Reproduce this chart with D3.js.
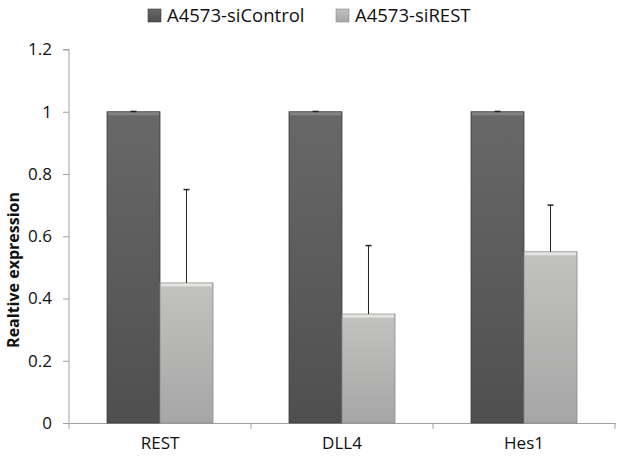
<!DOCTYPE html>
<html><head><meta charset="utf-8">
<script src="https://cdn.jsdelivr.net/npm/d3@7"></script>
<style>body{margin:0;background:#fff}svg{display:block}</style>
</head><body>
<script>
const categories = ["REST", "DLL4", "Hes1"];
const seriesNames = ["A4573-siControl", "A4573-siREST"];
const controlValues = [1, 1, 1];
const controlErrors = [0.001, 0.001, 0.001];
const restValues = [0.45, 0.35, 0.55];
const restErrors = [0.30, 0.22, 0.15];
const yTicks = [0, 0.2, 0.4, 0.6, 0.8, 1, 1.2];

(function () {
const W = 624, H = 461;
const svg = d3.select("body").append("svg").attr("width", W).attr("height", H);
const defs = svg.append("defs");
function grad(id, c1, c2) {
  const g = defs.append("linearGradient").attr("id", id).attr("x1", 0).attr("y1", 0).attr("x2", 0).attr("y2", 1);
  g.append("stop").attr("offset", 0).attr("stop-color", c1);
  g.append("stop").attr("offset", 1).attr("stop-color", c2);
}
grad("gDark", "#686868", "#4f4f4f");
grad("gLight", "#c2c2c0", "#a6a6a6");

const pl = 69, pr = 615, pt = 49.5, pb = 423;
const y = d3.scaleLinear().domain([0, 1.2]).range([pb, pt]);
const x0 = d3.scaleBand().domain(categories).range([pl, pr]).paddingInner(0).paddingOuter(0);
const inner = d3.scaleBand().domain(seriesNames).range([0, x0.bandwidth()]).paddingInner(0).paddingOuter(0.717);

const font = "'Open Sans', 'Liberation Sans', sans-serif";

// y axis
const yAxis = d3.axisLeft(y).tickValues(yTicks).tickSize(6).tickFormat(d => String(+d.toFixed(1)));
const gy = svg.append("g").attr("transform", `translate(${pl},0)`).call(yAxis);
gy.select(".domain").attr("stroke", "#a0a0a0").attr("d", `M-6,${pt}H0V${pb}`);
gy.selectAll(".tick line").attr("stroke", "#a0a0a0");
gy.selectAll(".tick text").attr("font-family", font).attr("font-size", 17).attr("fill", "#111").attr("x", -17);

// x axis
const xAxis = d3.axisBottom(x0).tickSize(0).tickPadding(14);
const gx = svg.append("g").attr("transform", `translate(0,${pb})`).call(xAxis);
gx.select(".domain").attr("stroke", "#a0a0a0");
gx.selectAll(".tick text").attr("font-family", font).attr("font-size", 17).attr("fill", "#111");
const bounds = [pl].concat(categories.map(c => x0(c) + x0.bandwidth()));
gx.selectAll(".sep").data(bounds).enter().append("line")
  .attr("x1", d => d).attr("x2", d => d).attr("y1", 0).attr("y2", 6).attr("stroke", "#a0a0a0");

// bars
const series = [
  {name: seriesNames[0], vals: controlValues, errs: controlErrors, fill: "url(#gDark)", edge: "#3e3e3e", hi: "#8a8a8a"},
  {name: seriesNames[1], vals: restValues, errs: restErrors, fill: "url(#gLight)", edge: "#8a8a8a", hi: "#ececea"}
];
series.forEach(s => {
  const g = svg.append("g");
  categories.forEach((c, i) => {
    const bx = x0(c) + inner(s.name), bw = inner.bandwidth();
    const by = y(s.vals[i]);
    g.append("rect").attr("x", bx).attr("y", by).attr("width", bw).attr("height", pb - by)
      .attr("fill", s.fill).attr("stroke", s.edge).attr("stroke-width", 0.8);
    g.append("rect").attr("x", bx + 1).attr("y", by + 0.5).attr("width", bw - 2).attr("height", 3)
      .attr("fill", s.hi).attr("opacity", 0.8);
    const cx = bx + bw / 2, ty = y(s.vals[i] + s.errs[i]);
    g.append("line").attr("x1", cx).attr("x2", cx).attr("y1", by).attr("y2", ty).attr("stroke", "#222").attr("stroke-width", 1);
    g.append("line").attr("x1", cx - 3).attr("x2", cx + 3).attr("y1", ty).attr("y2", ty).attr("stroke", "#222").attr("stroke-width", 1.5);
  });
});

// y label
svg.append("text").attr("transform", `translate(19,270) rotate(-90)`)
  .attr("text-anchor", "middle").attr("font-family", font).attr("font-weight", "bold").attr("font-size", 16)
  .attr("fill", "#111").text("Realtive expression");

// legend
const legX = [148, 336];
const legFill = ["url(#gDark)", "url(#gLight)"];
const legEdge = ["#3e3e3e", "#8a8a8a"];
seriesNames.forEach((n, i) => {
  svg.append("rect").attr("x", legX[i]).attr("y", 9).attr("width", 13).attr("height", 13)
    .attr("fill", legFill[i]).attr("stroke", legEdge[i]).attr("stroke-width", 0.6);
  svg.append("text").attr("x", legX[i] + 19).attr("y", 22).attr("font-family", font).attr("font-size", 18.5)
    .attr("fill", "#111").text(n);
});
})();
</script>
</body></html>
